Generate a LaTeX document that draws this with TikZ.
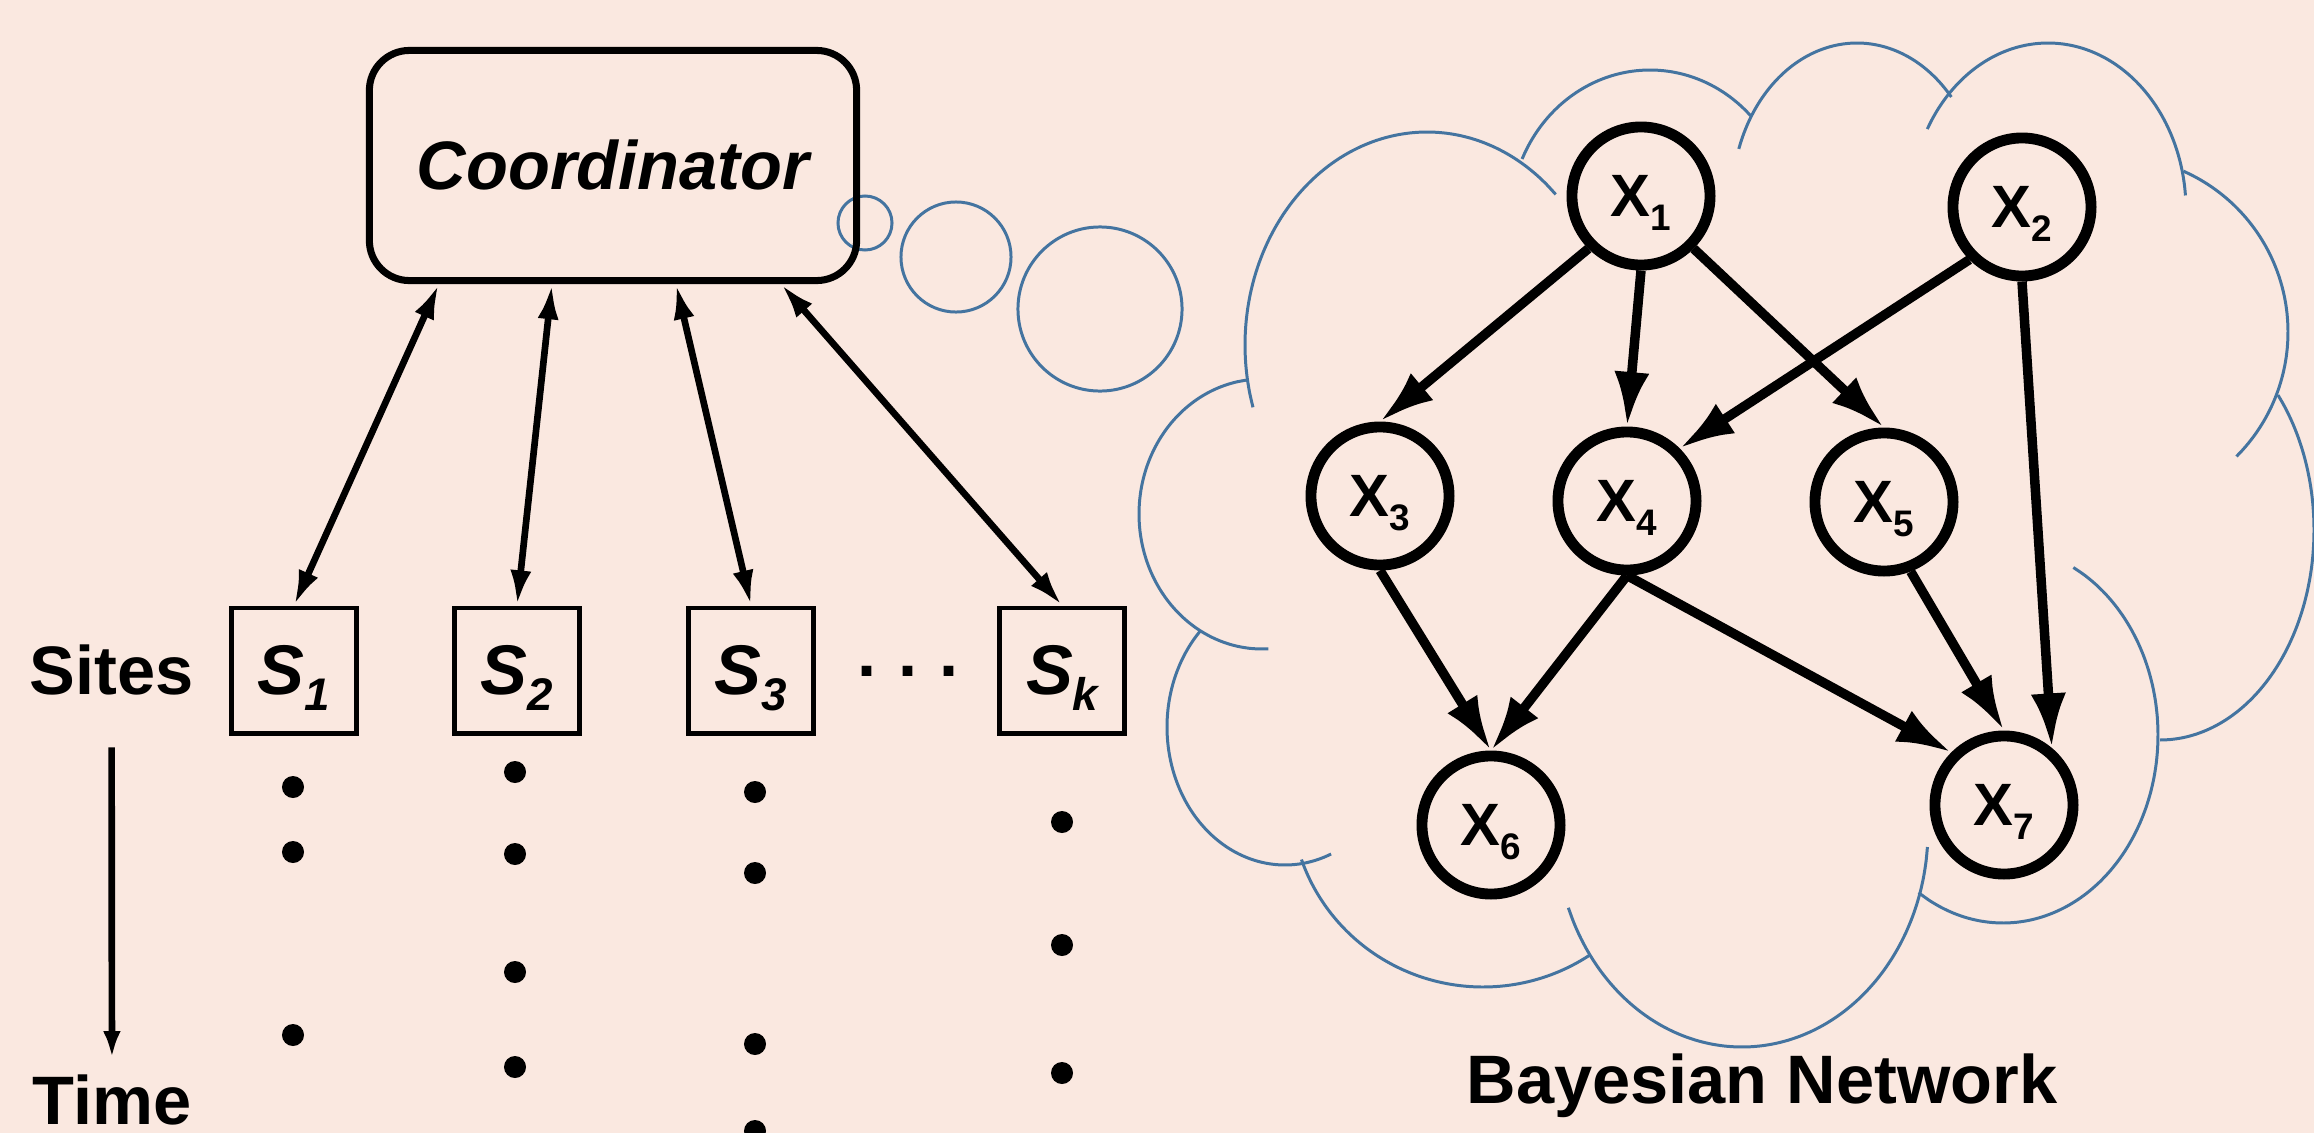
\documentclass[tikz,border=0pt]{standalone}
\usepackage{fontspec}
\setmainfont{Liberation Sans}
\usetikzlibrary{arrows.meta, positioning}
\definecolor{bgPink}{RGB}{250,232,224}
\definecolor{cloudBlue}{RGB}{68,116,160}
\newcommand{\sitelabel}[1]{S\raisebox{-4.5pt}[0pt][0pt]{\fontsize{13}{13}\selectfont #1}}
\newcommand{\varlabel}[1]{X\raisebox{-4pt}[0pt][0pt]{\fontsize{10.5}{10.5}\selectfont #1}}

\begin{document}
\begin{tikzpicture}[
  x=0.01cm, y=-0.01cm,
  bigtext/.style={inner sep=0, font=\fontsize{19.5}{20}\selectfont\bfseries},
  coordbox/.style={draw, rounded corners=0.4cm, line width=2pt, minimum width=4.87cm,
                   minimum height=2.3cm, font=\fontsize{19.5}{20}\selectfont\bfseries\itshape},
  sitebox/.style={draw, line width=1.4pt, minimum size=1.25cm, inner sep=0,
                  font=\fontsize{20}{20}\selectfont\bfseries\itshape},
  varnode/.style={draw, circle, line width=3.1pt, minimum size=1.38cm, inner sep=0,
                  font=\fontsize{17}{17}\selectfont\bfseries},
  link/.style={{Latex[length=10pt,width=6pt]}-{Latex[length=10pt,width=6pt]}, line width=1.9pt},
  bnarrow/.style={-{Latex[length=15.5pt,width=10pt]}, line width=2.7pt},
  timearrow/.style={-{Latex[length=7.5pt,width=5pt]}, line width=1.9pt},
  cloudline/.style={draw=cloudBlue, line width=0.85pt},
]
  \useasboundingbox (0,0) rectangle (2314,1133);
  \fill[bgPink] (0,0) rectangle (2314,1133);
  \clip (0,0) rectangle (2314,1133);

  \draw[cloudline] plot[smooth, samples=40, domain=87:263] ({1262+123*cos(\x)}, {514+135*sin(\x)});
  \draw[cloudline] plot[smooth, samples=40, domain=163:315] ({1427+182*cos(\x)}, {345+213*sin(\x)});
  \draw[cloudline] plot[smooth, samples=40, domain=204:316] ({1650+140*cos(\x)}, {220+150*sin(\x)});
  \draw[cloudline] plot[smooth, samples=40, domain=199:319] ({1857+125*cos(\x)}, {200+157*sin(\x)});
  \draw[cloudline] plot[smooth, samples=40, domain=209:355] ({2048+138*cos(\x)}, {210+167*sin(\x)});
  \draw[cloudline] plot[smooth, samples=40, domain=-66:45] ({2112+176*cos(\x)}, {332+176*sin(\x)});
  \draw[cloudline] plot[smooth, samples=40, domain=-40:90] ({2160+154*cos(\x)}, {530+210*sin(\x)});
  \draw[cloudline] plot[smooth, samples=40, domain=-63:123] ({2003+155*cos(\x)}, {735+188*sin(\x)});
  \draw[cloudline] plot[smooth, samples=40, domain=4.5:159] ({1742+186*cos(\x)}, {830+217*sin(\x)});
  \draw[cloudline] plot[smooth, samples=40, domain=56:161] ({1483+192*cos(\x)}, {798+189*sin(\x)});
  \draw[cloudline] plot[smooth, samples=40, domain=67:224] ({1285+118*cos(\x)}, {727+138*sin(\x)});

  \draw[cloudline] (865,223) circle[radius=0.27cm];
  \draw[cloudline] (956,257) circle[radius=0.55cm];
  \draw[cloudline] (1100,309) circle[radius=0.82cm];

  \node[coordbox] (coord) at (613,165.5) {Coordinator};

  \node[sitebox] (s1) at (294,670.5) {\sitelabel{1}};
  \node[sitebox, right=0.93cm of s1] (s2) {\sitelabel{2}};
  \node[sitebox, right=1.04cm of s2] (s3) {\sitelabel{3}};
  \node[sitebox, right=1.81cm of s3] (sk) {\sitelabel{k}};
  \node[bigtext] (sdots) at (908,671) {.\hspace{6.2pt}.\hspace{6.2pt}.};

  \node[bigtext, anchor=base] (sites) at (111.5,694) {Sites};
  \node[bigtext, anchor=base] (time) at (112,1124) {Time};
  \draw[timearrow, shorten <=0.52cm, shorten >=0.16cm] (sites) -- (time);

  \draw[link] ([xshift=0.73cm]coord.south west) -- (s1.north);
  \draw[link] ([xshift=1.86cm]coord.south west) -- (s2.north);
  \draw[link] ([xshift=3.10cm]coord.south west) -- (s3.north);
  \draw[link] ([xshift=4.15cm]coord.south west) -- (sk.north);

  \foreach \y in {787,852,1035} \fill (293,\y) circle[radius=0.11cm];
  \foreach \y in {772,854,972,1067} \fill (515,\y) circle[radius=0.11cm];
  \foreach \y in {792,873,1044,1131} \fill (755,\y) circle[radius=0.11cm];
  \foreach \y in {822,945,1073} \fill (1062,\y) circle[radius=0.11cm];

  \node[varnode] (x1) at (1641,196) {\varlabel{1}};
  \node[varnode] (x2) at (2022,207) {\varlabel{2}};
  \node[varnode] (x3) at (1380,496) {\varlabel{3}};
  \node[varnode] (x4) at (1627,501) {\varlabel{4}};
  \node[varnode] (x5) at (1884,502) {\varlabel{5}};
  \node[varnode] (x6) at (1491,825) {\varlabel{6}};
  \node[varnode] (x7) at (2004,805) {\varlabel{7}};

  \draw[bnarrow] (x1.south west) -- (x3.north);
  \draw[bnarrow] (x1.south) -- (x4.north);
  \draw[bnarrow] (x1.south east) -- (x5.north);
  \draw[bnarrow] (x2.south west) -- (x4.north east);
  \draw[bnarrow] (x2.south) -- (x7.50);
  \draw[bnarrow] (x3.south) -- (x6.north);
  \draw[bnarrow] (x4.south) -- (x6.north);
  \draw[bnarrow] (x4.south) -- (x7.north west);
  \draw[bnarrow] (x5.-69) -- (x7.north);

  \node[bigtext, anchor=base] (bnlabel) at (1762,1103) {Bayesian Network};
\end{tikzpicture}
\end{document}
